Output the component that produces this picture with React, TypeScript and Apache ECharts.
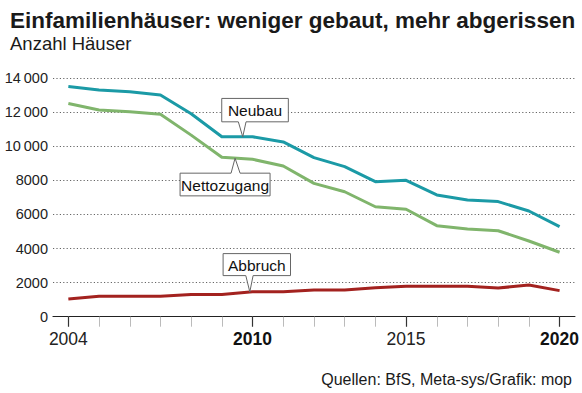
import React, { useEffect, useRef } from "react";
import * as echarts from "echarts";

const years = ["2004", "2005", "2006", "2007", "2008", "2009", "2010", "2011", "2012", "2013", "2014", "2015", "2016", "2017", "2018", "2019", "2020"];
const neubau = [13500, 13300, 13200, 13000, 11900, 10550, 10550, 10250, 9330, 8800, 7920, 8000, 7140, 6850, 6750, 6200, 5280];
const nettozugang = [12500, 12120, 12020, 11870, 10650, 9350, 9230, 8840, 7820, 7330, 6450, 6300, 5340, 5140, 5040, 4440, 3780];
const abbruch = [1040, 1200, 1200, 1200, 1300, 1300, 1470, 1460, 1560, 1560, 1700, 1780, 1780, 1780, 1680, 1860, 1530];
const labelledYears = ["2004", "2010", "2015", "2020"];
const boldYears = ["2010", "2020"];
const yMin = 0;
const yMax = 14000;
const yStep = 2000;

const titleText = "Einfamilienhäuser: weniger gebaut, mehr abgerissen";
const subtitleText = "Anzahl Häuser";
const sourceText = "Quellen: BfS, Meta-sys/Grafik: mop";

const COLORS = { neubau: "#1b9aa6", netto: "#80b56c", abbruch: "#a3221f" };
const SANS = "'Liberation Sans', Arial, sans-serif";

type Callout = {
  text: string;
  seriesIndex: number;
  index: number;
  frac: number;
  box: [number, number, number, number]; // left, right, top, bottom offsets from anchor
  notch: [number, number];
  below: boolean;
};

const callouts: Callout[] = [
  { text: "Neubau", seriesIndex: 0, index: 5, frac: 0.68, box: [-21, 45.6, -38.4, -15], notch: [-4.4, 3.3], below: false },
  { text: "Nettozugang", seriesIndex: 1, index: 5, frac: 0.43, box: [-55, 35, 15, 37.7], notch: [-4, 5], below: true },
  { text: "Abbruch", seriesIndex: 2, index: 5, frac: 0.91, box: [-26.7, 40.7, -38.3, -16.3], notch: [-4, 3.3], below: false },
];

function fmtY(v: number): string {
  if (v >= 10000) {
    const s = String(v);
    return s.slice(0, s.length - 3) + "\u2009" + s.slice(s.length - 3);
  }
  return String(v);
}

export default function App() {
  const ref = useRef<HTMLDivElement>(null);
  useEffect(() => {
    if (!ref.current) return;
    const chart = echarts.init(ref.current, undefined, { renderer: "svg" });
    const seriesData = [neubau, nettozugang, abbruch];
    const mk = (name: string, data: number[], color: string) => ({
      name,
      type: "line",
      data,
      symbol: "none",
      lineStyle: { color, width: 3, join: "round" },
      itemStyle: { color },
      z: 3,
    });
    const option: any = {
      animation: false,
      backgroundColor: "#ffffff",
      title: [
        { text: titleText, left: 5, top: 4, textStyle: { fontFamily: SANS, fontSize: 22.5, fontWeight: "bold", color: "#1a1a1a" } },
        { text: subtitleText, left: 5, top: 29, textStyle: { fontFamily: SANS, fontSize: 18.5, fontWeight: "normal", color: "#1a1a1a" } },
        { text: sourceText, right: 5, top: 366, textStyle: { fontFamily: SANS, fontSize: 16, fontWeight: "normal", color: "#1a1a1a" } },
      ],
      grid: { left: 53, right: 5.3, top: 78, bottom: 76.3, containLabel: false },
      xAxis: [
        {
          type: "category",
          data: years,
          boundaryGap: true,
          axisLine: { show: true, lineStyle: { color: "#222", width: 1.2 } },
          axisTick: { show: true, alignWithLabel: true, interval: 0, length: 10, lineStyle: { color: "#bbb", width: 1 } },
          axisLabel: {
            interval: (i: number, v: string) => labelledYears.includes(v),
            margin: 13,
            formatter: (v: string) => (boldYears.includes(v) ? `{b|${v}}` : `{n|${v}}`),
            rich: {
              n: { fontFamily: SANS, fontSize: 17.5, color: "#222" },
              b: { fontFamily: SANS, fontSize: 17.5, fontWeight: "bold", color: "#111" },
            },
          },
          splitLine: { show: false },
        },
        {
          type: "category",
          data: years,
          boundaryGap: true,
          position: "bottom",
          axisLine: { show: false },
          axisTick: { show: true, alignWithLabel: true, interval: (i: number, v: string) => labelledYears.includes(v), length: 10, lineStyle: { color: "#333", width: 1.2 } },
          axisLabel: { show: false },
          splitLine: { show: false },
        },
      ],
      yAxis: {
        type: "value",
        min: yMin,
        max: yMax,
        interval: yStep,
        axisLine: { show: false },
        axisTick: { show: false },
        axisLabel: { formatter: fmtY, margin: 5, fontFamily: SANS, fontSize: 14.5, color: "#222" },
        splitLine: { show: true, lineStyle: { color: "#666", width: 1, type: [1.2, 2.2] } },
      },
      series: [
        mk("Neubau", neubau, COLORS.neubau),
        mk("Nettozugang", nettozugang, COLORS.netto),
        mk("Abbruch", abbruch, COLORS.abbruch),
      ],
    };
    chart.setOption(option);

    const graphics: any[] = [];
    callouts.forEach((c) => {
      const d = seriesData[c.seriesIndex];
      const p1 = chart.convertToPixel({ xAxisIndex: 0, yAxisIndex: 0 }, [c.index, d[c.index]]) as number[];
      const p2 = chart.convertToPixel({ xAxisIndex: 0, yAxisIndex: 0 }, [c.index + 1, d[c.index + 1]]) as number[];
      const ax = p1[0] + (p2[0] - p1[0]) * c.frac;
      const ay = p1[1] + (p2[1] - p1[1]) * c.frac;
      const [l, r, t, b] = c.box;
      const x0 = ax + l, x1 = ax + r, y0 = ay + t, y1 = ay + b;
      const n0 = ax + c.notch[0], n1 = ax + c.notch[1];
      let pts: number[][];
      if (!c.below) {
        pts = [[x0, y0], [x1, y0], [x1, y1], [n1, y1], [ax, ay], [n0, y1], [x0, y1]];
      } else {
        pts = [[x0, y0], [n0, y0], [ax, ay], [n1, y0], [x1, y0], [x1, y1], [x0, y1]];
      }
      graphics.push({
        type: "polygon",
        shape: { points: pts },
        style: { fill: "#ffffff", stroke: "#666", lineWidth: 1 },
        z: 10,
      });
      graphics.push({
        type: "text",
        x: (x0 + x1) / 2,
        y: (y0 + y1) / 2 + 0.5,
        style: { text: c.text, fontFamily: SANS, fontSize: 15.5, fill: "#111", align: "center", verticalAlign: "middle" },
        z: 11,
      });
    });
    chart.setOption({ graphic: graphics });

    return () => chart.dispose();
  }, []);
  return <div ref={ref} style={{ position: "fixed", left: 0, top: 0, width: 582, height: 393, background: "#fff" }} />;
}
